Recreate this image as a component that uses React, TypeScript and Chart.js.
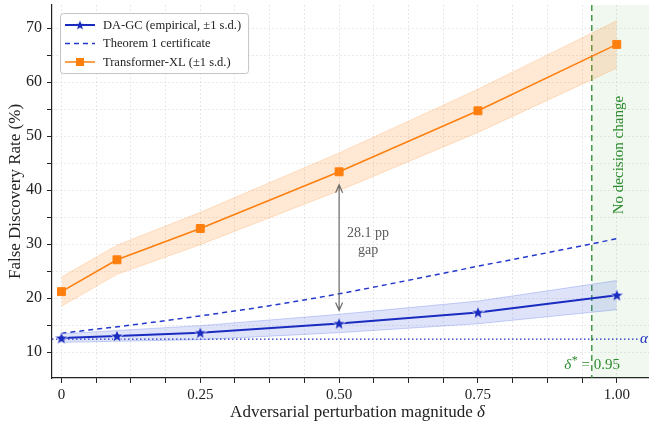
import React, { useEffect, useRef } from 'react';
import { Chart, registerables } from 'chart.js';

Chart.register(...registerables);

// ---------------- data ----------------
const deltas = [0, 0.1, 0.25, 0.5, 0.75, 1.0];
const dagcMean = [12.6, 13.0, 13.6, 15.3, 17.35, 20.55];
const dagcSd = [0.8, 1.0, 1.3, 1.7, 2.1, 2.7];
const txlMean = [21.2, 27.1, 32.9, 43.4, 54.7, 67.0];
const txlSd = [2.7, 2.7, 3.0, 3.5, 4.0, 4.4];
const theoremDeltas = [0, 0.125, 0.25, 0.375, 0.5, 0.625, 0.75, 0.875, 1.0];
const theoremBound = [13.5, 15.0, 16.7, 18.6, 20.8, 23.3, 25.9, 28.4, 31.0];
const alphaLevel = 12.4;
const deltaStar = 0.955;
const deltaStarLabel = '0.95';
const gapIndex = 3; // delta = 0.5
const xTickValues = [0, 0.0625, 0.125, 0.1875, 0.25, 0.3125, 0.375, 0.4375, 0.5, 0.5625, 0.625, 0.6875, 0.75, 0.8125, 0.875, 0.9375, 1.0];
const xMajorTicks = [0, 0.25, 0.5, 0.75, 1.0];
const yTickValues = [10, 15, 20, 25, 30, 35, 40, 45, 50, 55, 60, 65, 70];
const yMajorTicks = [10, 20, 30, 40, 50, 60, 70];
const legendLabels = ['DA-GC (empirical, \u00b11 s.d.)', 'Theorem 1 certificate', 'Transformer-XL (\u00b11 s.d.)'];

// ---------------- styles ----------------
const SERIF = "'Liberation Serif', 'DejaVu Serif', serif";
const BLUE = '#1a2cc0';
const BLUE_DASH = '#2538cc';
const ORANGE = '#ff7f0e';
const GREEN = '#2e8b2e';
const TEXT = '#222222';

function starPath(g: CanvasRenderingContext2D, cx: number, cy: number, R: number, r: number) {
  g.beginPath();
  for (let i = 0; i < 10; i++) {
    const ang = -Math.PI / 2 + (i * Math.PI) / 5;
    const rad = i % 2 === 0 ? R : r;
    const px = cx + rad * Math.cos(ang);
    const py = cy + rad * Math.sin(ang);
    if (i === 0) g.moveTo(px, py);
    else g.lineTo(px, py);
  }
  g.closePath();
}

function makeStar(R: number) {
  const size = Math.ceil(R * 2 + 4);
  const c = document.createElement('canvas');
  c.width = size;
  c.height = size;
  const g = c.getContext('2d')!;
  starPath(g, size / 2, size / 2 + 0.5, R, R * 0.42);
  g.fillStyle = BLUE;
  g.fill();
  g.lineWidth = 0.8;
  g.strokeStyle = 'rgba(255,255,255,0.9)';
  g.stroke();
  return c;
}

const pts = (xs: number[], ys: number[]) => xs.map((x, i) => ({ x, y: ys[i] }));

const overlayPlugin = {
  id: 'overlay',
  beforeDatasetsDraw(chart: any) {
    const { ctx, chartArea, scales } = chart;
    const x = scales.x;
    const y = scales.y;
    const xs = x.getPixelForValue(deltaStar);
    ctx.save();
    ctx.fillStyle = 'rgba(60,160,60,0.08)';
    ctx.fillRect(xs, chartArea.top, chartArea.right - xs, chartArea.bottom - chartArea.top);
    const ya = y.getPixelForValue(alphaLevel);
    ctx.strokeStyle = BLUE;
    ctx.lineWidth = 1.4;
    ctx.setLineDash([1.5, 2.5]);
    ctx.beginPath();
    ctx.moveTo(chartArea.left, ya);
    ctx.lineTo(chartArea.right - 11, ya);
    ctx.stroke();
    ctx.setLineDash([]);
    ctx.fillStyle = BLUE;
    ctx.font = `italic 15px ${SERIF}`;
    ctx.textAlign = 'left';
    ctx.textBaseline = 'middle';
    ctx.fillText('\u03b1', chartArea.right - 9, ya);
    ctx.strokeStyle = GREEN;
    ctx.lineWidth = 1.3;
    ctx.setLineDash([6, 4]);
    ctx.beginPath();
    ctx.moveTo(xs, chartArea.top);
    ctx.lineTo(xs, chartArea.bottom);
    ctx.stroke();
    ctx.setLineDash([]);
    ctx.restore();
  },
  afterDatasetsDraw(chart: any) {
    const { ctx, chartArea, scales } = chart;
    const x = scales.x;
    const y = scales.y;
    const xs = x.getPixelForValue(deltaStar);
    ctx.save();
    ctx.fillStyle = GREEN;
    ctx.font = `15px ${SERIF}`;
    ctx.textAlign = 'center';
    ctx.textBaseline = 'middle';
    ctx.save();
    ctx.translate(xs + 27, y.getPixelForValue(46.5));
    ctx.rotate(-Math.PI / 2);
    ctx.fillText('No decision change', 0, 0);
    ctx.restore();
    const yl = chartArea.bottom - 13;
    const partA = '\u03b4';
    const partB = '*';
    const partC = ' = ' + deltaStarLabel;
    ctx.font = `italic 15px ${SERIF}`;
    const wA = ctx.measureText(partA).width;
    ctx.font = `12px ${SERIF}`;
    const wB = ctx.measureText(partB).width;
    ctx.font = `15px ${SERIF}`;
    const wC = ctx.measureText(partC).width;
    let cx = xs - (wA + wB + wC) / 2;
    ctx.textAlign = 'left';
    ctx.textBaseline = 'middle';
    ctx.font = `italic 15px ${SERIF}`;
    ctx.fillText(partA, cx, yl);
    cx += wA + 0.5;
    ctx.font = `12px ${SERIF}`;
    ctx.fillText(partB, cx, yl - 4);
    cx += wB;
    ctx.font = `15px ${SERIF}`;
    ctx.fillText(partC, cx, yl);

    const gx = x.getPixelForValue(deltas[gapIndex]);
    const yTop = y.getPixelForValue(txlMean[gapIndex]) + 13;
    const yBot = y.getPixelForValue(dagcMean[gapIndex]) - 13;
    ctx.strokeStyle = '#6b6b6b';
    ctx.lineWidth = 1.2;
    ctx.beginPath();
    ctx.moveTo(gx, yTop);
    ctx.lineTo(gx, yBot);
    ctx.moveTo(gx - 3.5, yTop + 8);
    ctx.lineTo(gx, yTop);
    ctx.lineTo(gx + 3.5, yTop + 8);
    ctx.moveTo(gx - 3.5, yBot - 8);
    ctx.lineTo(gx, yBot);
    ctx.lineTo(gx + 3.5, yBot - 8);
    ctx.stroke();
    const gap = (txlMean[gapIndex] - dagcMean[gapIndex]).toFixed(1);
    ctx.fillStyle = '#5a5a5a';
    ctx.font = `14px ${SERIF}`;
    ctx.textAlign = 'center';
    ctx.textBaseline = 'middle';
    const midY = (yTop + yBot) / 2 - 6;
    ctx.fillText(`${gap} pp`, gx + 29, midY - 8.5);
    ctx.fillText('gap', gx + 29, midY + 8.5);
    ctx.restore();
  },
  afterDraw(chart: any) {
    const { ctx, chartArea, scales } = chart;
    const x = scales.x;
    ctx.save();
    const t1 = 'Adversarial perturbation magnitude ';
    const t2 = '\u03b4';
    ctx.font = `17px ${SERIF}`;
    const w1 = ctx.measureText(t1).width;
    ctx.font = `italic 17px ${SERIF}`;
    const w2 = ctx.measureText(t2).width;
    const cxT = (x.left + x.right) / 2 + 7;
    let sx = cxT - (w1 + w2) / 2;
    const ty = 413;
    ctx.fillStyle = TEXT;
    ctx.textAlign = 'left';
    ctx.textBaseline = 'middle';
    ctx.font = `17px ${SERIF}`;
    ctx.fillText(t1, sx, ty);
    sx += w1;
    ctx.font = `italic 17px ${SERIF}`;
    ctx.fillText(t2, sx, ty);

    // legend
    const bx = chartArea.left + 8;
    const by = chartArea.top + 8;
    ctx.font = `12.5px ${SERIF}`;
    const maxW = Math.max(...legendLabels.map((l) => ctx.measureText(l).width));
    const textX = bx + 43;
    const bw = textX - bx + maxW + 7;
    const bh = 60;
    ctx.beginPath();
    ctx.roundRect(bx + 0.5, by + 0.5, bw, bh, 3);
    ctx.fillStyle = 'rgba(255,255,255,0.9)';
    ctx.fill();
    ctx.strokeStyle = '#c4c4c4';
    ctx.lineWidth = 1;
    ctx.stroke();
    const rows = [by + 12, by + 30.5, by + 49];
    const lx1 = bx + 5;
    const lx2 = bx + 35;
    const lcx = (lx1 + lx2) / 2;
    ctx.strokeStyle = BLUE;
    ctx.lineWidth = 2;
    ctx.beginPath();
    ctx.moveTo(lx1, rows[0]);
    ctx.lineTo(lx2, rows[0]);
    ctx.stroke();
    starPath(ctx, lcx, rows[0] + 0.5, 5, 2.1);
    ctx.fillStyle = BLUE;
    ctx.fill();
    ctx.strokeStyle = BLUE_DASH;
    ctx.lineWidth = 1.5;
    ctx.setLineDash([5, 4]);
    ctx.beginPath();
    ctx.moveTo(lx1, rows[1]);
    ctx.lineTo(lx2, rows[1]);
    ctx.stroke();
    ctx.setLineDash([]);
    ctx.strokeStyle = ORANGE;
    ctx.lineWidth = 1.5;
    ctx.beginPath();
    ctx.moveTo(lx1, rows[2]);
    ctx.lineTo(lx2, rows[2]);
    ctx.stroke();
    ctx.fillStyle = ORANGE;
    ctx.fillRect(lcx - 4, rows[2] - 4, 8, 8);
    ctx.fillStyle = TEXT;
    ctx.textAlign = 'left';
    ctx.textBaseline = 'middle';
    legendLabels.forEach((l, i) => ctx.fillText(l, textX, rows[i] + 0.5));
    ctx.restore();
  },
};

export default function App() {
  const ref = useRef<HTMLCanvasElement | null>(null);
  useEffect(() => {
    document.body.style.margin = '0';
    const canvas = ref.current;
    if (!canvas) return;
    const star = makeStar(7);
    const chart = new Chart(canvas, {
      type: 'line',
      data: {
        datasets: [
          {
            label: 'DA-GC',
            data: pts(deltas, dagcMean),
            borderColor: BLUE,
            backgroundColor: BLUE,
            borderWidth: 2,
            pointStyle: star as any,
            pointRadius: 7,
            pointHoverRadius: 7,
            fill: false,
            order: 0,
          },
          {
            label: 'Transformer-XL',
            data: pts(deltas, txlMean),
            borderColor: ORANGE,
            backgroundColor: ORANGE,
            borderWidth: 1.5,
            pointStyle: 'rect',
            pointRadius: 5.6,
            pointBorderWidth: 1,
            pointBorderColor: ORANGE,
            fill: false,
            order: 1,
          },
          {
            label: 'Theorem 1 certificate',
            data: pts(theoremDeltas, theoremBound),
            borderColor: BLUE_DASH,
            borderWidth: 1.5,
            borderDash: [5, 4],
            pointRadius: 0,
            cubicInterpolationMode: 'monotone',
            fill: false,
            order: 2,
          },
          {
            label: 'DA-GC upper',
            data: pts(deltas, dagcMean.map((m, i) => m + dagcSd[i])),
            borderColor: 'rgba(70,100,225,0.35)',
            borderWidth: 0.8,
            backgroundColor: 'rgba(70,100,225,0.18)',
            pointRadius: 0,
            fill: '+1',
            order: 3,
          },
          {
            label: 'DA-GC lower',
            data: pts(deltas, dagcMean.map((m, i) => m - dagcSd[i])),
            borderColor: 'rgba(70,100,225,0.35)',
            borderWidth: 0.8,
            pointRadius: 0,
            fill: false,
            order: 3,
          },
          {
            label: 'TXL upper',
            data: pts(deltas, txlMean.map((m, i) => m + txlSd[i])),
            borderColor: 'rgba(255,127,14,0.25)',
            borderWidth: 0.8,
            backgroundColor: 'rgba(255,127,14,0.18)',
            pointRadius: 0,
            fill: '+1',
            order: 4,
          },
          {
            label: 'TXL lower',
            data: pts(deltas, txlMean.map((m, i) => m - txlSd[i])),
            borderColor: 'rgba(255,127,14,0.25)',
            borderWidth: 0.8,
            pointRadius: 0,
            fill: false,
            order: 4,
          },
        ],
      },
      options: {
        animation: false,
        responsive: false,
        devicePixelRatio: 1,
        events: [],
        layout: { autoPadding: false, padding: { top: 5, right: 0, bottom: 0, left: 0 } },
        plugins: {
          legend: { display: false },
          tooltip: { enabled: false },
        },
        scales: {
          x: {
            type: 'linear',
            min: -0.017,
            max: 1.058,
            afterBuildTicks: (s: any) => {
              s.ticks = xTickValues.map((v) => ({ value: v }));
            },
            afterFit: (s: any) => {
              s.height = 54;
              s.paddingLeft = 0;
              s.paddingRight = 0;
            },
            ticks: {
              autoSkip: false,
              maxRotation: 0,
              padding: 3,
              color: TEXT,
              font: { family: SERIF, size: 15 },
              callback: (v: any) => {
                const n = Number(v);
                if (!xMajorTicks.some((m) => Math.abs(m - n) < 1e-9)) return '';
                return n === 0 ? '0' : n.toFixed(2);
              },
            },
            grid: {
              color: '#e3e3e3',
              lineWidth: 0.8,
              tickLength: 5,
              tickColor: '#222',
              tickWidth: 1,
            },
            border: { display: true, color: '#222', width: 1.2, dash: [2, 2] },
            title: { display: false },
          },
          y: {
            type: 'linear',
            min: 5.2,
            max: 74.3,
            afterBuildTicks: (s: any) => {
              s.ticks = yTickValues.map((v) => ({ value: v }));
            },
            afterFit: (s: any) => {
              s.width = 52;
              s.paddingTop = 0;
              s.paddingBottom = 0;
            },
            ticks: {
              autoSkip: false,
              padding: 5,
              color: TEXT,
              font: { family: SERIF, size: 16 },
              callback: (v: any) => {
                const n = Number(v);
                return yMajorTicks.includes(n) ? String(n) : '';
              },
            },
            grid: {
              color: '#e3e3e3',
              lineWidth: 0.8,
              tickLength: 5,
              tickColor: '#222',
              tickWidth: 1,
            },
            border: { display: true, color: '#222', width: 1.2, dash: [2, 2] },
            title: {
              display: true,
              text: 'False Discovery Rate (%)',
              color: TEXT,
              font: { family: SERIF, size: 17 },
              padding: { top: 5, bottom: 0 },
            },
          },
        },
      },
      plugins: [overlayPlugin],
    } as any);
    return () => chart.destroy();
  }, []);
  return (
    <div style={{ width: 649, height: 432 }}>
      <canvas ref={ref} width={649} height={432} style={{ display: 'block' }} />
    </div>
  );
}
